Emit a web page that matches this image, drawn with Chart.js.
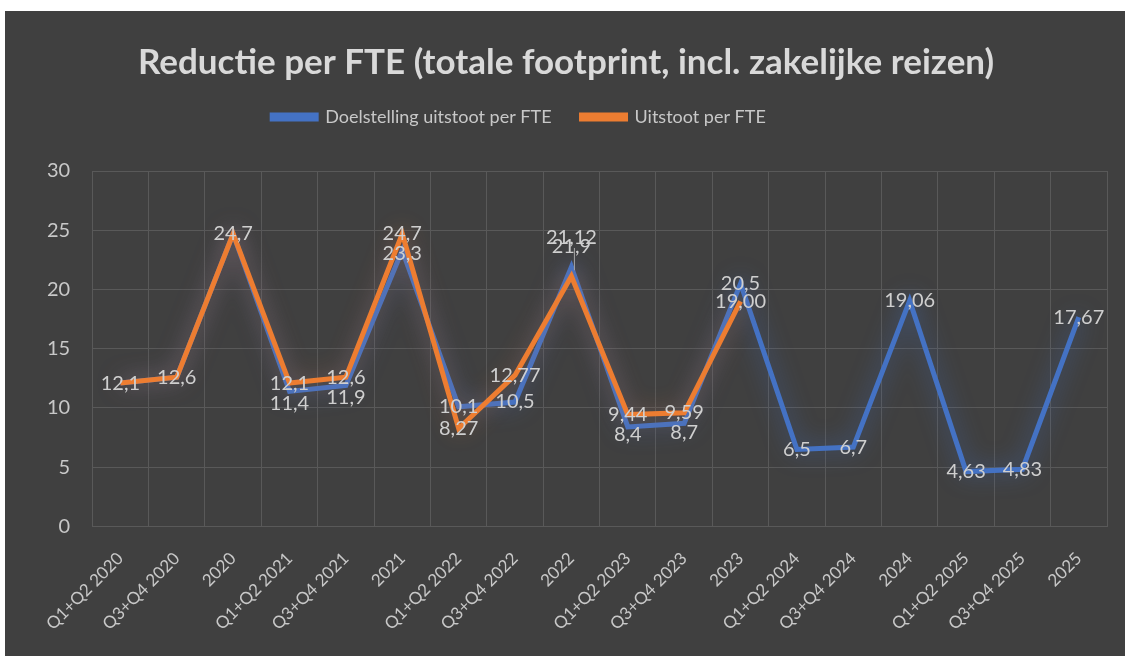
<!DOCTYPE html>
<html>
<head>
<meta charset="utf-8">
<script src="https://cdn.jsdelivr.net/npm/chart.js@4"></script>
<style>
  html, body { margin: 0; padding: 0; background: #fff; }
  #wrap { position: absolute; left: 5px; top: 11px; width: 1120px; height: 645px; background: #404040; }
</style>
</head>
<body>
<div id="wrap"><canvas id="chart"></canvas></div>
<script>
// categories and values
const categories = [
  "Q1+Q2 2020", "Q3+Q4 2020", "2020",
  "Q1+Q2 2021", "Q3+Q4 2021", "2021",
  "Q1+Q2 2022", "Q3+Q4 2022", "2022",
  "Q1+Q2 2023", "Q3+Q4 2023", "2023",
  "Q1+Q2 2024", "Q3+Q4 2024", "2024",
  "Q1+Q2 2025", "Q3+Q4 2025", "2025"
];
const doelstelling = [12.1, 12.6, 24.7, 11.4, 11.9, 23.3, 10.1, 10.5, 21.9, 8.4, 8.7, 20.5, 6.5, 6.7, 19.06, 4.63, 4.83, 17.67];
const uitstoot = [12.1, 12.6, 24.7, 12.1, 12.6, 24.7, 8.27, 12.77, 21.12, 9.44, 9.59, 19, null, null, null, null, null, null];
const yTicks = [0, 5, 10, 15, 20, 25, 30];

const FONT = "Lato, 'Open Sans', sans-serif";
const BLUE = "#4472C4";
const ORANGE = "#ED7D31";

function fmt(v) {
  const s = Number.isInteger(v) ? v.toFixed(2) : String(v);
  return s.replace(".", ",");
}

/* soft glow round the lines */
const glow = {
  id: "glow",
  beforeDatasetDraw(chart, args) {
    const ctx = chart.ctx;
    ctx.save();
    ctx.shadowColor = args.index === 0 ? "rgba(68,114,196,0.65)" : "rgba(237,125,49,0.45)";
    ctx.shadowBlur = 22;
  },
  afterDatasetDraw(chart) {
    chart.ctx.restore();
  }
};

/* legend sits a bit left of centre in the original, with room below it */
const legendPlace = {
  id: "legendPlace",
  afterInit(chart) {
    const fit = chart.legend.fit;
    chart.legend.fit = function () {
      fit.bind(chart.legend)();
      this.height += 20;
    };
  },
  afterLayout(chart) {
    const lg = chart.legend;
    lg.left -= 47;
    lg.right -= 47;
    lg.top -= 15;
  }
};

/* value labels, excel style */
const valueLabels = {
  id: "valueLabels",
  afterDatasetsDraw(chart) {
    const ctx = chart.ctx;
    const blue = chart.getDatasetMeta(0).data;
    const orange = chart.getDatasetMeta(1).data;
    ctx.save();
    ctx.font = "20px " + FONT;
    ctx.fillStyle = "#cfcfcf";
    ctx.textAlign = "center";
    ctx.textBaseline = "middle";
    doelstelling.forEach((b, i) => {
      const o = uitstoot[i];
      const pb = blue[i];
      let by = pb.y;
      if (o == null) {
        ctx.fillText(fmt(b), pb.x, by);
        return;
      }
      const po = orange[i];
      let oy = po.y;
      if (b === o) {
        ctx.fillText(fmt(o), po.x, oy);
        return;
      }
      if (b < o && by - oy < 18) by = oy + 20;
      if (b > o && oy - by < 12) {
        by = pb.y - 20;
        oy = by - 9;
        ctx.strokeStyle = "#a6a6a6";
        ctx.lineWidth = 1;
        ctx.beginPath();
        ctx.moveTo(po.x + 3, oy + 10);
        ctx.lineTo(po.x + 3, po.y - 6);
        ctx.stroke();
      }
      ctx.fillText(fmt(b), pb.x, by);
      ctx.fillText(fmt(o), po.x, oy);
    });
    ctx.restore();
  }
};

new Chart(document.getElementById("chart"), {
  type: "line",
  data: {
    labels: categories,
    datasets: [
      {
        label: "Doelstelling uitstoot per FTE",
        data: doelstelling,
        borderColor: BLUE,
        backgroundColor: BLUE,
        borderWidth: 5,
        pointRadius: 0,
        tension: 0,
        order: 1
      },
      {
        label: "Uitstoot per FTE",
        data: uitstoot,
        borderColor: ORANGE,
        backgroundColor: ORANGE,
        borderWidth: 5,
        pointRadius: 0,
        tension: 0,
        spanGaps: false,
        order: 0
      }
    ]
  },
  options: {
    responsive: true,
    maintainAspectRatio: false,
    animation: false,
    layout: { padding: { left: 20, right: 18, top: 0, bottom: 0 } },
    plugins: {
      title: {
        display: true,
        text: "Reductie per FTE (totale footprint, incl. zakelijke reizen)",
        color: "#d9d9d9",
        font: { family: FONT, size: 35, weight: "bold" },
        padding: { top: 31, bottom: 9 }
      },
      legend: {
        position: "top",
        labels: {
          color: "#c8c8c8",
          font: { family: FONT, size: 18 },
          boxWidth: 44,
          boxHeight: 4,
          padding: 30,
          sort: (a, b) => a.datasetIndex - b.datasetIndex
        }
      },
      tooltip: { enabled: false }
    },
    scales: {
      x: {
        offset: true,
        grid: { color: "#595959", lineWidth: 1, offset: true, drawTicks: false },
        border: { color: "#595959" },
        ticks: {
          color: "#c8c8c8",
          font: { family: FONT, size: 17 },
          maxRotation: 45,
          minRotation: 45,
          autoSkip: false,
          padding: 22
        }
      },
      y: {
        min: 0,
        max: 30,
        afterBuildTicks: axis => { axis.ticks = yTicks.map(v => ({ value: v })); },
        grid: { color: "#595959", lineWidth: 1, drawTicks: false },
        border: { display: false },
        ticks: {
          color: "#c8c8c8",
          font: { family: FONT, size: 20 },
          padding: 22
        }
      }
    }
  },
  plugins: [glow, legendPlace, valueLabels]
});
</script>
</body>
</html>
